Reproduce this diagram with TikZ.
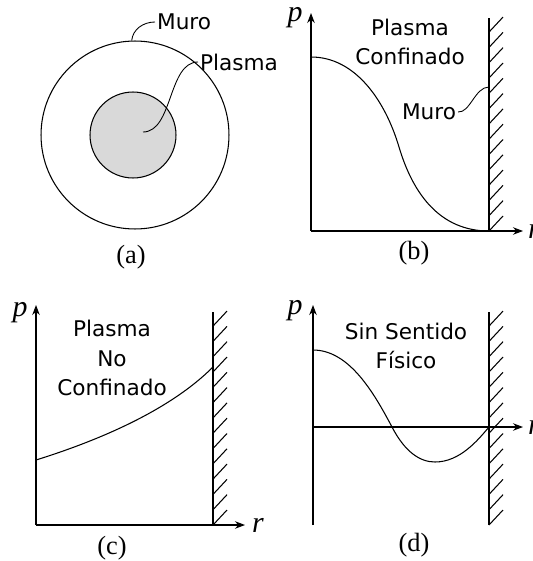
\documentclass[tikz,border=0pt]{standalone}
\usepackage{fontspec}
\setmainfont{Liberation Serif}
\newfontfamily\notefont{DejaVu Sans}
\usetikzlibrary{arrows.meta}
\tikzset{
  axis/.style={-{Stealth[length=2mm,width=1.5mm]}, line width=0.6pt},
  wall/.style={line width=0.6pt},
  prof/.style={line width=0.6pt},
  lead/.style={line width=0.5pt},
  note/.style={font=\notefont\fontsize{12.3}{17}\selectfont, align=center, inner sep=1pt},
  sublbl/.style={font=\fontsize{15}{17}\selectfont, inner sep=1pt},
  var/.style={font=\fontsize{17}{19}\selectfont\itshape, inner sep=1pt},
}
% wall with hatching: x, bottom y
\newcommand{\hatchwall}[2]{%
  \draw[wall] (#1,#2) -- (#1,#2-213);
  \foreach \k in {0,...,13}
    \draw[wall] (#1,#2-\k*15.3) -- ++(14,-15);
}

\begin{document}
\begin{tikzpicture}[x=0.02cm, y=-0.02cm]
  \useasboundingbox (0,0) rectangle (532,561);

  % (a) cross section
  \node[circle, draw, line width=0.6pt, minimum size=3.76cm] (vessel) at (135,135) {};
  \node[circle, draw, line width=0.6pt, fill=gray!30, minimum size=1.72cm] (core) at (133,135) {};
  \coordinate (coreIn) at (143,132);
  \node[note, anchor=west] (muroA) at (155,22) {Muro};
  \node[note, anchor=west] (plasmaA) at (198,62) {Plasma};
  \draw[lead] (vessel.92) .. controls ++(1,-11) and ++(-12,0) .. (muroA.west);
  \draw[lead] (coreIn) .. controls ++(30,0) and ++(-30,0) .. (plasmaA.west);
  \node[sublbl] (labA) at (131,257) {(a)};

  % (b) confined
  \coordinate (ob) at (311,231);
  \coordinate (yb) at (311,13);
  \coordinate (xb) at (523,231);
  \draw[axis] (ob) -- (yb);
  \draw[axis] (ob) -- (xb);
  \hatchwall{489}{231}
  \node[var] (pb) at (295,18) {p};
  \node[var, anchor=west] (rb) at (526,231) {r};
  \draw[prof] (311,57) .. controls (355,57) and (385,100) .. (399,147)
    .. controls (413,194) and (440,231) .. (489,231);
  \node[note] (txtB) at (410,42) {Plasma\\Confinado};
  \node[note] (muroB) at (429,112) {Muro};
  \coordinate (wallB) at (489,87);
  \draw[lead] (muroB.east) .. controls ++(12,1) and ++(-14,0) .. (wallB);
  \node[sublbl] (labB) at (414,253) {(b)};

  % (c) not confined
  \coordinate (oc) at (36,525);
  \coordinate (yc) at (36,305);
  \coordinate (xc) at (245,525);
  \draw[axis] (oc) -- (yc);
  \draw[axis] (oc) -- (xc);
  \hatchwall{213}{525}
  \node[var] (pc) at (20,313) {p};
  \node[var] (rc) at (258,525) {r};
  \draw[prof] (36,460) .. controls (100,440) and (170,410) .. (213,367);
  \node[note] (txtC) at (112,358) {Plasma\\No\\Confinado};
  \node[sublbl] (labC) at (112,548) {(c)};

  % (d) no physical meaning
  \coordinate (od) at (313,525);
  \coordinate (yd) at (313,305);
  \coordinate (zd) at (313,427);
  \coordinate (xd) at (523,427);
  \draw[axis] (od) -- (yd);
  \draw[axis] (zd) -- (xd);
  \hatchwall{489}{525}
  \node[var] (pd) at (295,311) {p};
  \node[var, anchor=west] (rd) at (526,427) {r};
  \draw[prof] (313,350) .. controls (350,350) and (375,395) .. (392,427)
    .. controls (405,452) and (420,462) .. (435,462)
    .. controls (460,462) and (478,440) .. (489,427);
  \node[note] (txtD) at (406,346) {Sin Sentido\\Físico};
  \node[sublbl] (labD) at (414,545) {(d)};
\end{tikzpicture}
\end{document}
